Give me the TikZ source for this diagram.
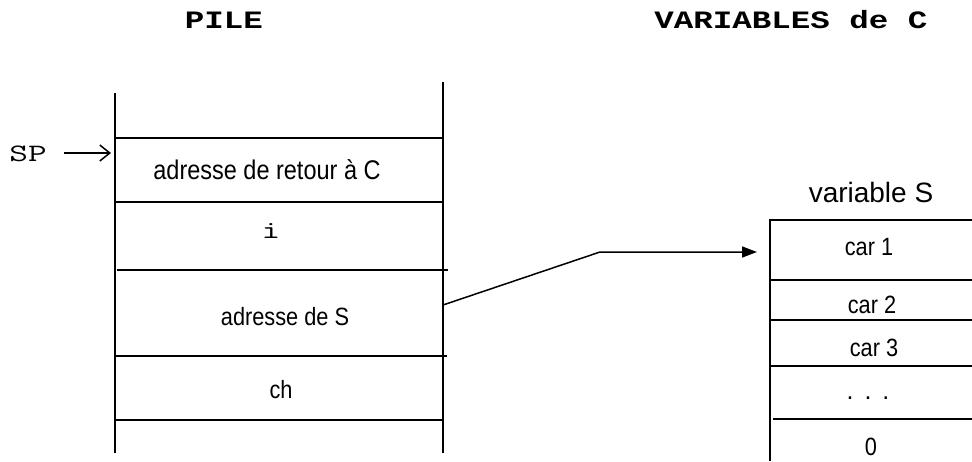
\documentclass[tikz,border=0pt]{standalone}
\usepackage{fontspec}
\setmainfont{Liberation Sans}
\newfontfamily\narrowf{Liberation Sans}[FakeStretch=0.87]
\newfontfamily\monof{Latin Modern Mono}[FakeStretch=1.45]
\newfontfamily\headf{Liberation Mono}[FakeStretch=1.3]
\usetikzlibrary{arrows.meta}
\begin{document}
\begin{tikzpicture}[x=1pt,y=-1pt,line width=1.6pt,
  every node/.style={inner sep=0pt,outer sep=0pt,anchor=center},
  wtxt/.style={font=\fontsize{#1}{#1}\selectfont},
  ntxt/.style={font=\narrowf\fontsize{#1}{#1}\selectfont},
  mtxt/.style={font=\monof\fontsize{25}{27}\selectfont},
  head/.style={font=\headf\bfseries\fontsize{25}{28}\selectfont},
  cellline/.style={line width=1.6pt},
  ptr/.style={line width=1.5pt,-{Triangle[length=15pt,width=11pt]}},
  sparrow/.style={line width=1.5pt,-{Straight Barb[length=10pt,width=16pt]}}]
\useasboundingbox (0,0) rectangle (972,461);

% headers
\node[head] (pile) at (224,20) {PILE};
\node[head] (vars) at (791,20) {VARIABLES de C};

% stack frame
\draw[cellline] (115,93) -- (115,453);
\draw[cellline] (443,82) -- (443,453);
\draw[cellline] (115,138) -- (443,138);
\draw[cellline] (115,202) -- (443,202);
\draw[cellline] (117,270) -- (448,270);
\draw[cellline] (115,356) -- (447,356);
\draw[cellline] (115,420) -- (443,420);

% stack contents
\node[ntxt=27] (retour) at (267,170) {adresse de retour à C};
\node[mtxt] (vi) at (271,231) {i};
\node[ntxt=25] (adrS) at (285,317) {adresse de S};
\node[ntxt=25] (ch) at (281,390) {ch};

% SP
\node[mtxt] (sp) at (28,154) {SP};
\coordinate (sptip) at (111,153);
\draw[sparrow] (sp.east) ++(17,-1) -- (sptip);

% variable S box
\node[wtxt=28] (varS) at (871,192) {variable S};
\draw[cellline] (972,220) -- (770,220) -- (770,461);
\draw[cellline] (770,280) -- (972,280);
\draw[cellline] (770,320) -- (972,320);
\draw[cellline] (770,366) -- (972,366);
\draw[cellline] (773,419) -- (972,419);
\node[ntxt=25] (car1) at (869,247) {car 1};
\node[ntxt=25] (car2) at (872,305) {car 2};
\node[ntxt=25] (car3) at (874,348) {car 3};
\node[wtxt=25] (dots) at (868,398) {.\hspace{11pt}.\hspace{11pt}.};
\node[ntxt=25] (zero) at (871,447) {0};

% pointer
\coordinate (ptrS) at (443,305);
\coordinate (bend) at (600,252);
\coordinate (tgt) at (757,252);
\draw[ptr] (ptrS) -- (bend) -- (tgt);
\end{tikzpicture}
\end{document}
